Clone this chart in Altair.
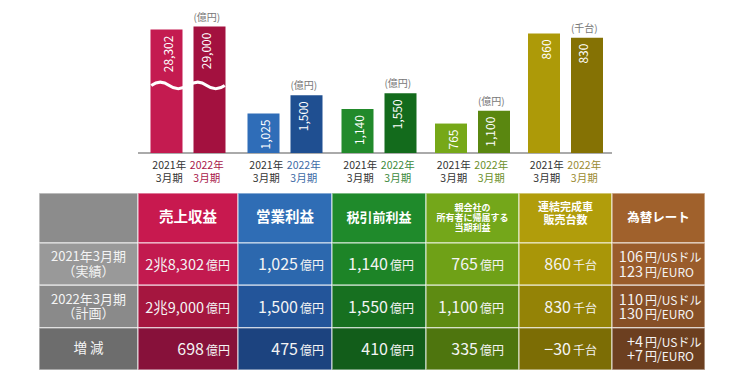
import altair as alt
import pandas as pd

FONT = "Noto Sans CJK JP"

# ---------------- data ----------------
col_keys = ["label", "rev", "op", "pre", "net", "units", "fx"]
header_texts = ["", "売上収益", "営業利益", "税引前利益",
                "親会社の\n所有者に帰属する\n当期利益", "連結完成車\n販売台数", "為替レート"]
row_keys = ["r1", "r2", "r3"]
row_labels = ["2021年3月期\n（実績）", "2022年3月期\n（計画）", "増 減"]
bar_years = ["2021", "2022"]
year_labels = ["2021年\n3月期", "2022年\n3月期"]
values_2021 = [28302, 1025, 1140, 765, 860]
values_2022 = [29000, 1500, 1550, 1100, 830]
bar_units = ["(億円)", "(億円)", "(億円)", "(億円)", "(千台)"]
table_numbers = [
    ["2兆8,302", "1,025", "1,140", "765", "860"],
    ["2兆9,000", "1,500", "1,550", "1,100", "830"],
    ["698", "475", "410", "335", "−30"],
]
table_units = ["億円", "億円", "億円", "億円", "千台"]
fx_usd = ["106", "110", "+4"]
fx_eur = ["123", "130", "+7"]
fx_usd_unit = "円/USドル"
fx_eur_unit = "円/EURO"

# ---------------- styles / layout ----------------
col_widths = [99, 100, 94, 94, 93, 93, 93]
header_sizes = [14, 14.5, 14.5, 13, 9, 11, 12.5]
header_line_h = [15, 15, 15, 14, 10, 13, 14]
header_dy = [0, 0, 0, 0, -10, -10, 0]
value_pad = [0, 8, 8, 12, 15, 15, 0]
header_colors = ["#8c8c8c", "#c8194f", "#2f6db5", "#1f8a2b", "#74a71a", "#b19d0b", "#a0612c"]
row_colors = [
    ["#999999", "#c21a4f", "#2c68ae", "#1d8427", "#6fa117", "#a99608", "#9a5c2b"],
    ["#8a8a8a", "#a5163f", "#23559a", "#177020", "#5e8b12", "#948306", "#875027"],
    ["#6d6d6d", "#87113a", "#1c437f", "#125d1a", "#4e750e", "#7c6d05", "#6c3f20"],
]
bar_colors_2021 = ["#c41b50", "#2f6db8", "#228a2b", "#76a818", "#ad9a08"]
bar_colors_2022 = ["#a3113f", "#1f4f91", "#136b1c", "#5a8710", "#857204"]
year2022_text = ["#a8174a", "#3c6aa5", "#3c8a3c", "#6b8f2a", "#9a8a30"]
bar_domain_max = [30000, 1000, 1000, 1000, 1000]
bar_range_top = [14.2, 106.5, 106.5, 106.5, 6.0]
BASE_Y = 145
BREAK_AT = 15500  # where the revenue bars' axis is broken
HEADER_RANGE = [185, 235]
BODY_RANGE = [235, 362]
PANEL_H = 365
NUM_SIZE = 16
NUM_SIZE_LONG = 14.5
WAVE = "M-1,0 C-0.67,-0.24 -0.33,-0.24 0,0 C0.33,0.24 0.67,0.24 1,0"


def panel(i):
    W = col_widths[i]
    key = col_keys[i]
    layers = []

    xcol = alt.X("col:N", scale=alt.Scale(domain=[key], range=[0, W],
                                          paddingInner=0, paddingOuter=0), axis=None)
    yh = alt.Y("row:N", scale=alt.Scale(domain=["h"], range=HEADER_RANGE,
                                        paddingInner=0, paddingOuter=0), axis=None)
    yr = alt.Y("row:N", scale=alt.Scale(domain=row_keys, range=BODY_RANGE,
                                        paddingInner=0, paddingOuter=0), axis=None)
    cell_style = dict(stroke="white", strokeOpacity=0.55, strokeWidth=1.5)

    # header cell
    hdr = pd.DataFrame({"col": [key], "row": ["h"], "color": [header_colors[i]],
                        "text": [header_texts[i]]})
    layers.append(alt.Chart(hdr).mark_rect(**cell_style).encode(
        x=xcol, y=yh, color=alt.Color("color:N", scale=None)))
    if header_texts[i]:
        layers.append(alt.Chart(hdr).mark_text(
            font=FONT, fontWeight="bold", fontSize=header_sizes[i],
            lineHeight=header_line_h[i], lineBreak="\n", color="white",
            baseline="middle", dy=header_dy[i]).encode(x=xcol, y=yh, text="text:N"))

    # body cells
    body = pd.DataFrame({"col": [key] * 3, "row": row_keys,
                         "color": [row_colors[r][i] for r in range(3)]})
    layers.append(alt.Chart(body).mark_rect(**cell_style).encode(
        x=xcol, y=yr, color=alt.Color("color:N", scale=None)))

    if i == 0:
        lab = pd.DataFrame({"col": [key] * 2, "row": row_keys[:2], "text": row_labels[:2]})
        layers.append(alt.Chart(lab).mark_text(
            font=FONT, fontSize=13, lineHeight=14.5, lineBreak="\n",
            color="#f4f4f4", baseline="middle", dy=-7).encode(x=xcol, y=yr, text="text:N"))
        lab3 = pd.DataFrame({"col": [key], "row": row_keys[2:], "text": row_labels[2:]})
        layers.append(alt.Chart(lab3).mark_text(
            font=FONT, fontSize=13.5, color="#f4f4f4", baseline="middle").encode(
            x=xcol, y=yr, text="text:N"))
    elif i == 6:
        fx = pd.DataFrame({"col": [key] * 3, "row": row_keys, "usd": fx_usd,
                           "eur": fx_eur, "uu": [fx_usd_unit] * 3, "ue": [fx_eur_unit] * 3})
        for fld, dy, size, align, xpos in [("usd", -2, 14.5, "right", 31),
                                           ("uu", -2, 12, "left", 33),
                                           ("eur", 12.5, 14.5, "right", 31),
                                           ("ue", 12.5, 12, "left", 33)]:
            layers.append(alt.Chart(fx).mark_text(
                font=FONT, fontSize=size, color="#f4f4f4", align=align,
                baseline="alphabetic", dy=dy).encode(
                x=alt.value(xpos), y=yr, text=f"{fld}:N"))
    else:
        m = i - 1
        nums = [table_numbers[r][m] for r in range(3)]
        vals = pd.DataFrame({"col": [key] * 3, "row": row_keys,
                             "num": nums,
                             "nsize": [NUM_SIZE_LONG if len(t) > 6 else NUM_SIZE for t in nums],
                             "unit": [table_units[m]] * 3})
        pad = value_pad[i]
        layers.append(alt.Chart(vals).mark_text(
            font=FONT, color="#f4f4f4", align="right",
            baseline="alphabetic", dy=6).encode(
            x=alt.value(W - pad - 26), y=yr, text="num:N",
            size=alt.Size("nsize:Q", scale=None, legend=None)))
        layers.append(alt.Chart(vals).mark_text(
            font=FONT, fontSize=12, color="#f4f4f4", align="left",
            baseline="alphabetic", dy=6).encode(
            x=alt.value(W - pad - 24), y=yr, text="unit:N"))

        # ---- bars above the column ----
        bars = pd.DataFrame({
            "year": bar_years,
            "value": [values_2021[m], values_2022[m]],
            "base": [0, 0],
            "brk": [BREAK_AT, BREAK_AT],
            "color": [bar_colors_2021[m], bar_colors_2022[m]],
            "lcolor": ["#333333", year2022_text[m]],
            "ylabel": year_labels,
            "unit": ["", bar_units[m]],
        })
        yscale = alt.Scale(domain=[0, bar_domain_max[m]],
                           range=[BASE_Y, bar_range_top[m]], nice=False, zero=True)
        xb = alt.X("year:N", scale=alt.Scale(domain=bar_years,
                                             range=[W / 2 - 37.5, W / 2 + 37.5],
                                             paddingInner=11 / 43, paddingOuter=0),
                   axis=None)
        yb = alt.Y("value:Q", scale=yscale, axis=None)
        ybase = alt.Y("base:Q", scale=yscale, axis=None)

        layers.append(alt.Chart(bars).mark_rule(color="#aaaaaa", strokeWidth=2).encode(y=ybase))
        layers.append(alt.Chart(bars).mark_bar().encode(
            x=xb, y=yb, color=alt.Color("color:N", scale=None)))
        if m == 0:
            layers.append(alt.Chart(bars).mark_point(
                shape=WAVE, size=1296, filled=False, color="white",
                strokeWidth=3, opacity=1).encode(
                x=xb, y=alt.Y("brk:Q", scale=yscale, axis=None)))
        layers.append(alt.Chart(bars).mark_text(
            font=FONT, fontSize=12, color="white", angle=270, align="right",
            baseline="middle", dx=-6).encode(
            x=xb, y=yb, text=alt.Text("value:Q", format=",")))
        layers.append(alt.Chart(bars).transform_filter("datum.unit != ''").mark_text(
            font=FONT, fontSize=10, color="#777777", baseline="bottom", dy=-4).encode(
            x=xb, y=yb, text="unit:N"))
        layers.append(alt.Chart(bars).mark_text(
            font=FONT, fontSize=10.5, lineBreak="\n", lineHeight=13,
            baseline="top", dy=8).encode(
            x=xb, y=ybase, text="ylabel:N", color=alt.Color("lcolor:N", scale=None)))

    return alt.layer(*layers).resolve_scale(x="independent", y="independent").properties(
        width=W, height=PANEL_H)


chart = alt.hconcat(*[panel(i) for i in range(7)], spacing=0, bounds="flush").properties(
    padding={"left": 30, "top": 0, "right": 0, "bottom": 0},
    background="white",
).configure_view(stroke=None)

chart.save("out.html", embed_options={"renderer": "svg", "actions": False})
